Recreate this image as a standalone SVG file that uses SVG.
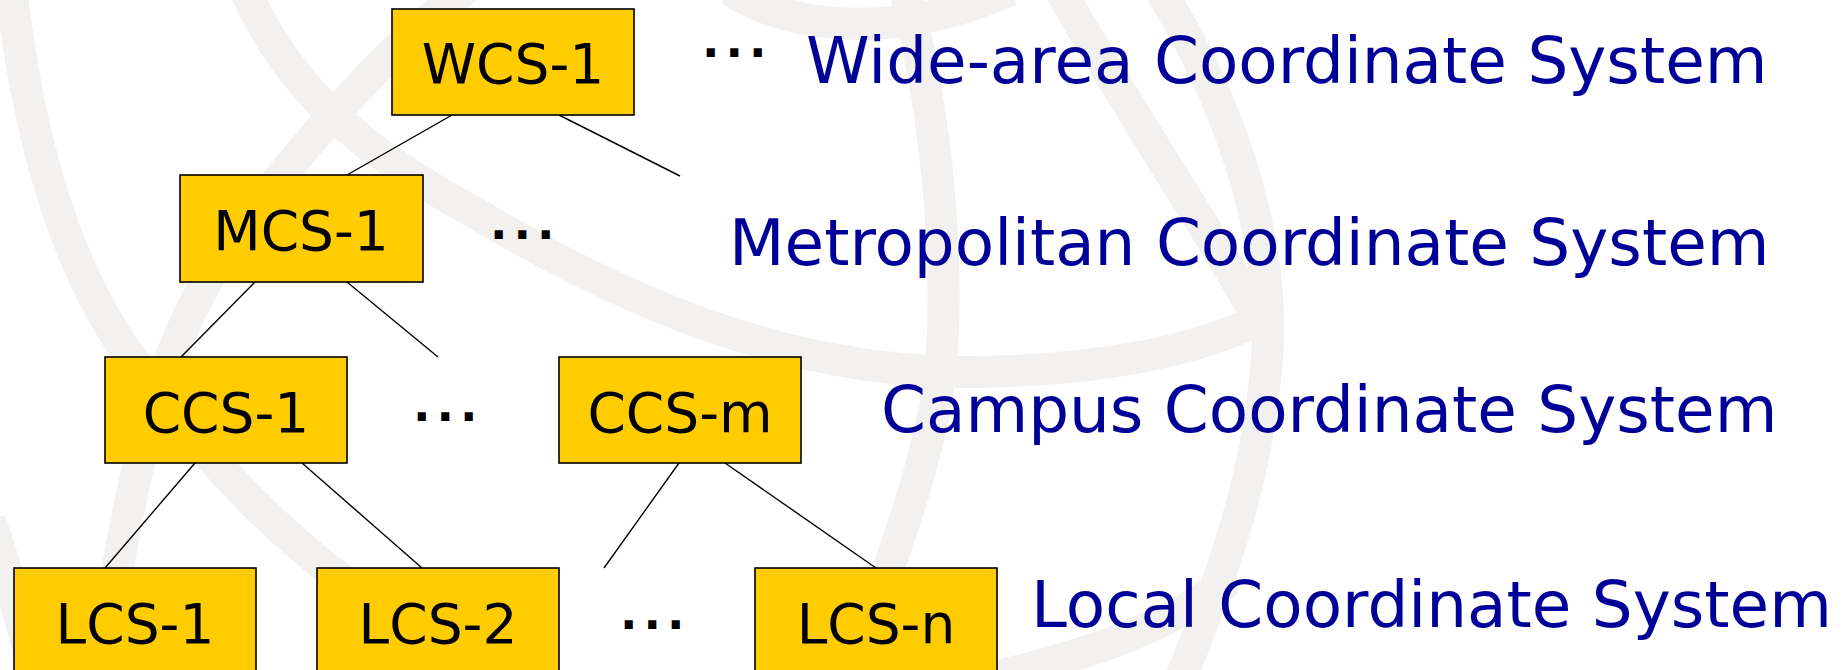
<svg xmlns="http://www.w3.org/2000/svg" width="1847" height="670" viewBox="0 0 1847 670">
  <style>
    .bg { fill: none; stroke: #f2f1ef; stroke-width: 32; stroke-linecap: butt; }
    .box { fill: #ffcc00; stroke: #000000; stroke-width: 1.6; }
    .name { font-family: "DejaVu Sans", Verdana, sans-serif; font-size: 55px; fill: #000000; text-anchor: middle; }
    .dots { font-family: "DejaVu Sans", Verdana, sans-serif; font-size: 46px; font-weight: bold; letter-spacing: 6px; fill: #000000; }
    .level { font-family: "DejaVu Sans", Verdana, sans-serif; font-size: 64.4px; fill: #000099; }
    .link { stroke: #000000; stroke-width: 1.4; fill: none; }
  </style>

  <rect x="0" y="0" width="1847" height="670" fill="#ffffff"/>

  <!-- faint globe backdrop -->
  <g id="backdrop">
    <path class="bg" d="M 12,-5 C 30,150 70,280 140,370 C 210,460 300,580 520,690"/>
    <path class="bg" d="M 470,-15 C 400,40 300,140 220,260 C 160,350 130,470 100,680"/>
    <path class="bg" d="M 245,-10 C 290,90 360,150 470,210 C 620,300 780,370 960,372 C 1100,372 1200,350 1262,318"/>
    <path class="bg" d="M 905,-10 C 945,150 955,330 930,430 C 910,520 875,600 850,680"/>
    <path class="bg" d="M 1160,-10 C 1240,120 1280,260 1265,380 C 1255,480 1225,570 1180,680"/>
    <path class="bg" d="M 1060,-10 C 1100,60 1150,140 1200,220 C 1230,270 1250,300 1262,330"/>
    <path class="bg" d="M 940,690 C 1050,665 1150,640 1230,580"/>
    <path class="bg" d="M 730,-10 C 790,30 900,40 1010,-10"/>
    <path class="bg" d="M -10,520 C 10,580 25,630 35,680"/>
  </g>

  <!-- tree edges -->
  <g id="connectors">
    <line class="link" x1="452" y1="115" x2="347" y2="175"/>
    <line class="link" x1="559" y1="115" x2="680" y2="176"/>
    <line class="link" x1="255" y1="282" x2="181" y2="357"/>
    <line class="link" x1="347" y1="282" x2="438" y2="357"/>
    <line class="link" x1="195" y1="463" x2="105" y2="568"/>
    <line class="link" x1="302" y1="463" x2="422" y2="568"/>
    <line class="link" x1="679" y1="463" x2="604" y2="568"/>
    <line class="link" x1="725" y1="463" x2="876" y2="568"/>
  </g>

  <g id="wcs-1">
    <rect class="box" x="392" y="9" width="242" height="106"/>
    <text class="name" x="513" y="83">WCS-1</text>
  </g>
  <g id="mcs-1">
    <rect class="box" x="180" y="175" width="243" height="107"/>
    <text class="name" x="301" y="250">MCS-1</text>
  </g>
  <g id="ccs-1">
    <rect class="box" x="105" y="357" width="242" height="106"/>
    <text class="name" x="226" y="432">CCS-1</text>
  </g>
  <g id="ccs-m">
    <rect class="box" x="559" y="357" width="242" height="106"/>
    <text class="name" x="680" y="432">CCS-m</text>
  </g>
  <g id="lcs-1">
    <rect class="box" x="14" y="568" width="242" height="110"/>
    <text class="name" x="135" y="643">LCS-1</text>
  </g>
  <g id="lcs-2">
    <rect class="box" x="317" y="568" width="242" height="110"/>
    <text class="name" x="438" y="643">LCS-2</text>
  </g>
  <g id="lcs-n">
    <rect class="box" x="755" y="568" width="242" height="110"/>
    <text class="name" x="876" y="643">LCS-n</text>
  </g>

  <!-- ellipses between siblings -->
  <g id="ellipses">
    <text class="dots" x="702" y="57">...</text>
    <text class="dots" x="490" y="239">...</text>
    <text class="dots" x="413" y="421">...</text>
    <text class="dots" x="620" y="629">...</text>
  </g>

  <!-- level captions -->
  <g id="levels">
    <text class="level" x="806" y="83">Wide-area Coordinate System</text>
    <text class="level" x="729" y="265">Metropolitan Coordinate System</text>
    <text class="level" x="881" y="432">Campus Coordinate System</text>
    <text class="level" x="1031" y="627">Local Coordinate System</text>
  </g>
</svg>
